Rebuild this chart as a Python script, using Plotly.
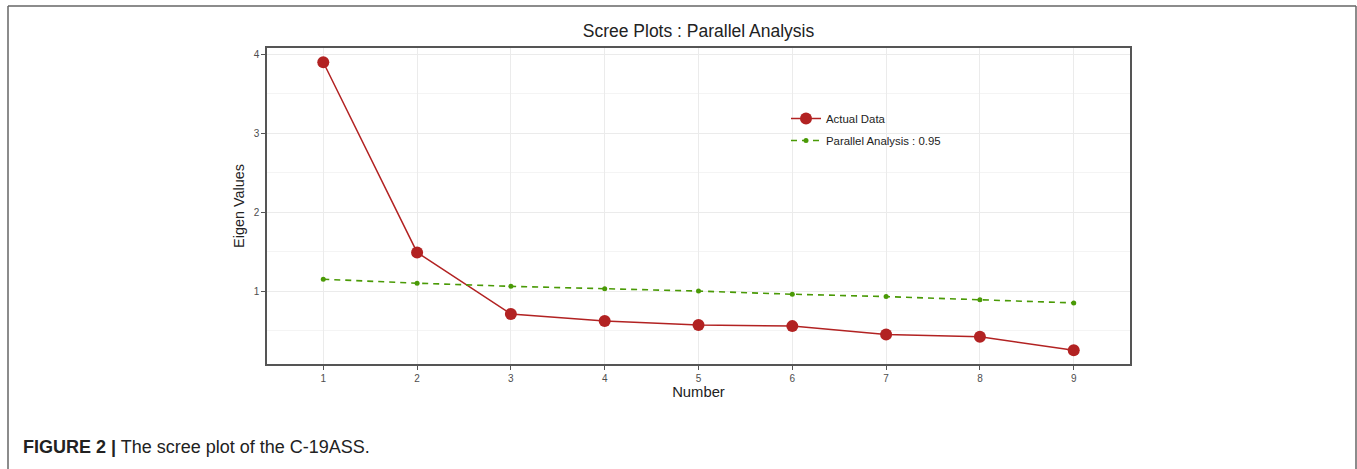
import plotly.graph_objects as go

# ---- data ----
factor_number = [1, 2, 3, 4, 5, 6, 7, 8, 9]
actual_eigen = [3.90, 1.49, 0.71, 0.62, 0.57, 0.556, 0.45, 0.42, 0.25]
parallel_eigen = [1.15, 1.10, 1.06, 1.03, 1.00, 0.96, 0.93, 0.89, 0.85]
x_ticks = [1, 2, 3, 4, 5, 6, 7, 8, 9]
y_ticks = [1, 2, 3, 4]

W, H = 1357, 469
L, R, T, B = 267, 1130, 48, 364  # plot area in pixels


def px_x(p):
    return (p - L) / (R - L)


def px_y(p):
    return (B - p) / (B - T)


FONT = "Liberation Sans, Arial, sans-serif"
RED = "#B22222"
GREEN = "#4A9A06"

fig = go.Figure()
fig.add_trace(go.Scatter(
    x=factor_number, y=actual_eigen, mode="lines+markers", name="Actual Data",
    legendgroup="a",
    line=dict(color=RED, width=1.5),
    marker=dict(color=RED, size=12),
))
fig.add_trace(go.Scatter(
    x=factor_number, y=parallel_eigen, mode="lines+markers",
    name="Parallel Analysis : 0.95", legendgroup="b",
    line=dict(color=GREEN, width=1.6, dash="6px,5px"),
    marker=dict(color=GREEN, size=5),
))

axis_common = dict(
    showline=True, linecolor="#555555", linewidth=1.5, mirror=True,
    ticks="outside", ticklen=4, tickcolor="#555555", tickwidth=1,
    tickfont=dict(family=FONT, size=10, color="#4d4d4d"),
    gridcolor="#EBEBEB", gridwidth=1, zeroline=False,
)

fig.update_layout(
    width=W, height=H, autosize=False,
    margin=dict(l=L, r=W - R, t=T, b=H - B),
    paper_bgcolor="white", plot_bgcolor="white",
    font=dict(family=FONT, color="#222222"),
    title=dict(text="Scree Plots : Parallel Analysis", x=0.5, xref="paper",
               xanchor="center", y=1 - 31 / H, yanchor="middle",
               font=dict(family=FONT, size=17.5, color="#222222")),
    xaxis=dict(range=[0.4, 9.6], tickvals=x_ticks, ticktext=[str(v) for v in x_ticks],
               title=dict(text="Number", font=dict(family=FONT, size=14.8, color="#222222"),
                          standoff=4),
               **axis_common),
    yaxis=dict(range=[0.076, 4.08], tickvals=y_ticks, ticktext=[str(v) for v in y_ticks],
               title=dict(text="Eigen Values", font=dict(family=FONT, size=14.4, color="#222222"),
                          standoff=6),
               minor=dict(tickvals=[0.5, 1.5, 2.5, 3.5], showgrid=True,
                          gridcolor="#F4F4F4", gridwidth=1, ticks=""),
               **axis_common),
    legend=dict(x=px_x(786), y=px_y(104), xanchor="left", yanchor="top",
                bgcolor="rgba(0,0,0,0)", borderwidth=0,
                font=dict(family=FONT, size=11.4, color="#222222"),
                itemwidth=30, traceorder="grouped", tracegroupgap=3),
    showlegend=True,
)

# white legend key background covering the grid
fig.add_shape(type="rect", xref="paper", yref="paper", layer="between",
              x0=px_x(793), x1=px_x(947), y0=px_y(157), y1=px_y(93),
              fillcolor="white", line=dict(width=0))

# outer figure frame (no bottom edge)
frame = dict(xref="paper", yref="paper", line=dict(color="#666666", width=1.5))
fig.add_shape(type="line", x0=px_x(8), x1=px_x(8), y0=px_y(6), y1=px_y(470), **frame)
fig.add_shape(type="line", x0=px_x(8), x1=px_x(1356), y0=px_y(6), y1=px_y(6), **frame)
fig.add_shape(type="line", x0=px_x(1356), x1=px_x(1356), y0=px_y(6), y1=px_y(470), **frame)

fig.add_annotation(
    text="<b>FIGURE 2 |</b> The scree plot of the C-19ASS.",
    xref="paper", yref="paper", x=px_x(21), y=px_y(447),
    xanchor="left", yanchor="middle", showarrow=False,
    font=dict(family=FONT, size=18, color="#222222"),
)

fig.write_html("out.html", config={"displayModeBar": False},
               post_script="document.body.style.margin='0px';")
